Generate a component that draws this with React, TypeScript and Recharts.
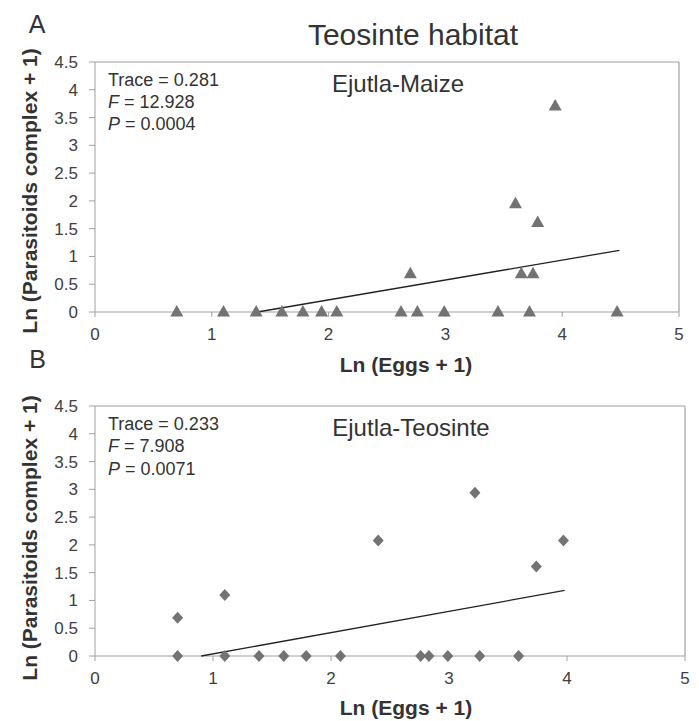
import React from 'react'
import {
  ScatterChart,
  Scatter,
  XAxis,
  YAxis,
  ReferenceLine,
} from 'recharts'

// Panel A: Ejutla-Maize (triangles)
const maizeX = [0.7, 1.1, 1.38, 1.6, 1.78, 1.94, 2.07, 2.62, 2.76, 2.99, 3.45, 3.72, 4.47, 2.7, 3.6, 3.65, 3.75, 3.79, 3.94]
const maizeY = [0, 0, 0, 0, 0, 0, 0, 0, 0, 0, 0, 0, 0, 0.69, 1.95, 0.69, 0.69, 1.61, 3.71]
const maizeTrendX = [1.39, 4.49]
const maizeTrendY = [0, 1.11]

// Panel B: Ejutla-Teosinte (diamonds)
const teoX = [0.7, 1.1, 1.39, 1.6, 1.79, 2.08, 2.76, 2.83, 2.99, 3.26, 3.59, 0.7, 1.1, 2.4, 3.22, 3.74, 3.97]
const teoY = [0, 0, 0, 0, 0, 0, 0, 0, 0, 0, 0, 0.69, 1.1, 2.08, 2.94, 1.61, 2.08]
const teoTrendX = [0.9, 3.98]
const teoTrendY = [0, 1.18]

const xTicks = [0, 1, 2, 3, 4, 5]
const yTicks = [0, 0.5, 1, 1.5, 2, 2.5, 3, 3.5, 4, 4.5]

const FONT = "'Liberation Sans', Arial, sans-serif"
const MARK = '#737373'
const AXIS = '#a0a0a0'
const TEXT = '#333333'

const toPoints = (xs: number[], ys: number[]) => xs.map((x, i) => ({ x, y: ys[i] }))

const Triangle = (props: any) => {
  const { cx, cy } = props
  return <polygon points={`${cx},${cy - 7} ${cx + 6.5},${cy + 4.5} ${cx - 6.5},${cy + 4.5}`} fill={MARK} />
}

const Diamond = (props: any) => {
  const { cx, cy } = props
  return <polygon points={`${cx},${cy - 6} ${cx + 5.5},${cy} ${cx},${cy + 6} ${cx - 5.5},${cy}`} fill={MARK} />
}

const NoDot = () => <g />

interface PanelProps {
  points: { x: number; y: number }[]
  trend: { x: number; y: number }[]
  shape: (p: any) => React.ReactElement
  width: number
  height: number
  top: number
  right: number
  xAxisHeight: number
}

function Panel({ points, trend, shape, width, height, top, right, xAxisHeight }: PanelProps) {
  const tick = { fill: '#404040', fontSize: 17, fontFamily: FONT }
  return (
    <ScatterChart width={width} height={height} margin={{ top, right, left: 0, bottom: 0 }}>
      <XAxis
        dataKey="x"
        type="number"
        domain={[0, 5]}
        ticks={xTicks}
        tick={tick}
        tickSize={5}
        tickMargin={11}
        stroke={AXIS}
        height={xAxisHeight}
      />
      <YAxis
        dataKey="y"
        type="number"
        domain={[0, 4.5]}
        ticks={yTicks}
        tick={tick}
        tickSize={6}
        tickMargin={11}
        stroke={AXIS}
        width={95}
      />
      <ReferenceLine y={4.5} stroke={AXIS} strokeWidth={1.2} />
      <ReferenceLine x={5} stroke={AXIS} strokeWidth={1.2} />
      <Scatter
        data={trend}
        line={{ stroke: '#222', strokeWidth: 1.3 }}
        shape={NoDot}
        isAnimationActive={false}
      />
      <Scatter data={points} shape={shape} isAnimationActive={false} />
    </ScatterChart>
  )
}

export default function App() {
  const txt = { fontFamily: FONT, fill: TEXT }
  return (
    <div style={{ position: 'absolute', left: 0, top: 0, width: 699, height: 721, background: '#fff' }}>
      <div style={{ position: 'absolute', left: 0, top: 0 }}>
        <Panel
          points={toPoints(maizeX, maizeY)}
          trend={toPoints(maizeTrendX, maizeTrendY)}
          shape={Triangle}
          width={699}
          height={380}
          top={62}
          right={20}
          xAxisHeight={68}
        />
      </div>
      <div style={{ position: 'absolute', left: 0, top: 345 }}>
        <Panel
          points={toPoints(teoX, teoY)}
          trend={toPoints(teoTrendX, teoTrendY)}
          shape={Diamond}
          width={699}
          height={376}
          top={61}
          right={14}
          xAxisHeight={65}
        />
      </div>
      <svg
        width={699}
        height={721}
        style={{ position: 'absolute', left: 0, top: 0, pointerEvents: 'none' }}
      >
        <text x={37} y={33} fontSize={25} textAnchor="middle" {...txt}>A</text>
        <text x={37.5} y={368} fontSize={25} textAnchor="middle" {...txt}>B</text>
        <text x={413} y={45} fontSize={30} textAnchor="middle" {...txt}>Teosinte habitat</text>

        <text x={398} y={92} fontSize={24} textAnchor="middle" {...txt}>Ejutla-Maize</text>
        <text x={108} y={86} fontSize={18} {...txt}>Trace = 0.281</text>
        <text x={108} y={108} fontSize={18} {...txt}><tspan fontStyle="italic">F</tspan> = 12.928</text>
        <text x={108} y={130} fontSize={18} {...txt}><tspan fontStyle="italic">P</tspan> = 0.0004</text>

        <text x={411} y={436} fontSize={24} textAnchor="middle" {...txt}>Ejutla-Teosinte</text>
        <text x={108} y={430} fontSize={18} {...txt}>Trace = 0.233</text>
        <text x={108} y={452} fontSize={18} {...txt}><tspan fontStyle="italic">F</tspan> = 7.908</text>
        <text x={108} y={475} fontSize={18} {...txt}><tspan fontStyle="italic">P</tspan> = 0.0071</text>

        <text x={406} y={372} fontSize={21} fontWeight="bold" textAnchor="middle" {...txt}>Ln (Eggs + 1)</text>
        <text x={406} y={715} fontSize={21} fontWeight="bold" textAnchor="middle" {...txt}>Ln (Eggs + 1)</text>

        <text x={36.5} y={191} fontSize={21} fontWeight="bold" textAnchor="middle" transform="rotate(-90, 36.5, 191)" {...txt}>
          Ln (Parasitoids complex + 1)
        </text>
        <text x={36.5} y={538} fontSize={21} fontWeight="bold" textAnchor="middle" transform="rotate(-90, 36.5, 538)" {...txt}>
          Ln (Parasitoids complex + 1)
        </text>
      </svg>
    </div>
  )
}
